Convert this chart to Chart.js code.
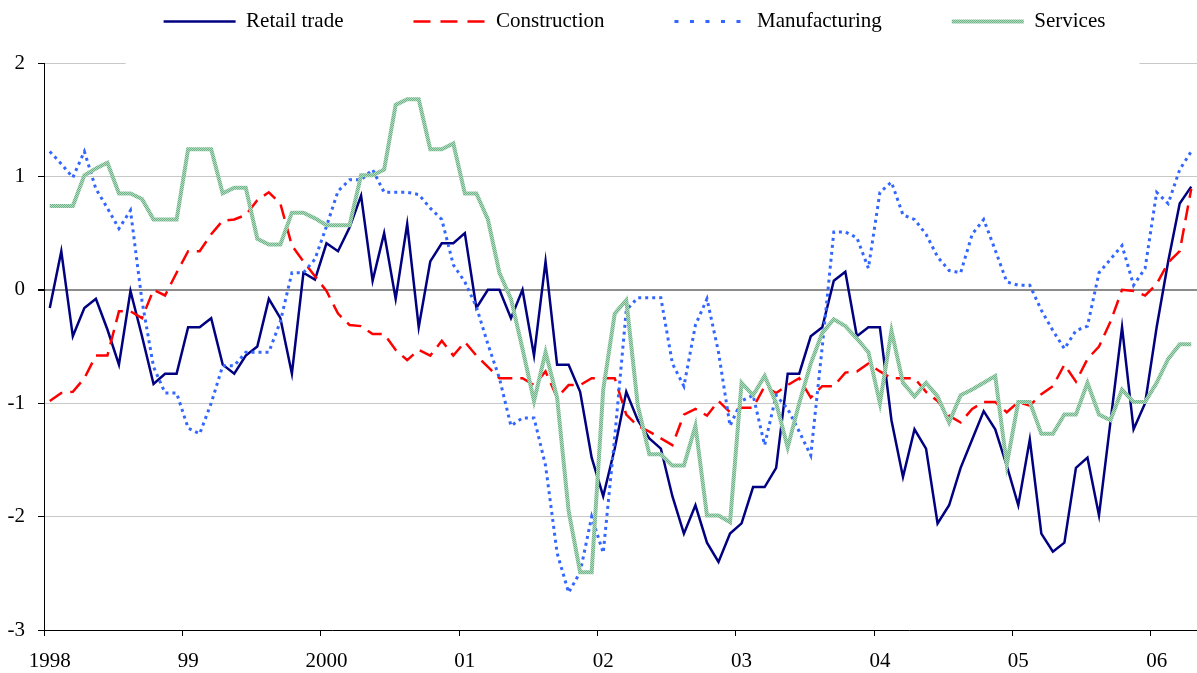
<!DOCTYPE html>
<html>
<head>
<meta charset="utf-8">
<script src="https://cdn.jsdelivr.net/npm/chart.js@4.4.1/dist/chart.umd.min.js"></script>
<style>
  html, body { margin: 0; padding: 0; background: #fff; }
  canvas { display: block; }
</style>
</head>
<body>
<canvas id="chart" width="1197" height="673"></canvas>
<script>
// monthly, Jan 1998 - Apr 2006
const yearLabels = ['1998', '99', '2000', '01', '02', '03', '04', '05', '06']

const retailTrade = [
  -0.16, 0.34, -0.41, -0.16, -0.08, -0.35, -0.66, -0.01, -0.41, -0.83, -0.74, -0.74,
  -0.33, -0.33, -0.25, -0.66, -0.74, -0.58, -0.50, -0.08, -0.25, -0.74, 0.15, 0.09,
  0.41, 0.34, 0.55, 0.83, 0.08, 0.50, -0.08, 0.58, -0.33, 0.25, 0.41, 0.41,
  0.50, -0.16, 0.00, 0.00, -0.25, 0.00, -0.58, 0.25, -0.66, -0.66, -0.90, -1.48,
  -1.82, -1.40, -0.90, -1.15, -1.31, -1.40, -1.82, -2.15, -1.90, -2.23, -2.40, -2.15,
  -2.06, -1.74, -1.74, -1.57, -0.74, -0.74, -0.41, -0.33, 0.08, 0.16, -0.41, -0.33,
  -0.33, -1.15, -1.65, -1.23, -1.40, -2.06, -1.90, -1.57, -1.32, -1.07, -1.23, -1.55,
  -1.90, -1.32, -2.15, -2.31, -2.23, -1.57, -1.48, -1.99, -1.16, -0.33, -1.23, -1.00,
  -0.33, 0.25, 0.76, 0.91
]

const construction = [
  -0.98, -0.91, -0.90, -0.78, -0.58, -0.58, -0.19, -0.19, -0.25, 0.00, -0.05, 0.15,
  0.34, 0.34, 0.49, 0.61, 0.62, 0.66, 0.79, 0.86, 0.76, 0.39, 0.25, 0.12,
  -0.01, -0.21, -0.31, -0.32, -0.39, -0.39, -0.53, -0.62, -0.53, -0.58, -0.45, -0.58,
  -0.46, -0.58, -0.68, -0.78, -0.78, -0.78, -0.84, -0.72, -0.95, -0.84, -0.84, -0.78,
  -0.78, -0.78, -1.10, -1.20, -1.25, -1.31, -1.37, -1.10, -1.05, -1.11, -0.98, -1.08,
  -1.04, -1.04, -0.85, -0.91, -0.84, -0.78, -0.95, -0.85, -0.85, -0.73, -0.72, -0.65,
  -0.72, -0.78, -0.78, -0.78, -0.90, -0.98, -1.11, -1.17, -1.05, -0.99, -0.99, -1.08,
  -0.99, -1.02, -0.92, -0.85, -0.66, -0.81, -0.61, -0.50, -0.28, 0.00, -0.01, -0.05,
  0.05, 0.24, 0.34, 0.89
]

const manufacturing = [
  1.22, 1.11, 0.99, 1.22, 0.89, 0.72, 0.54, 0.70, -0.10, -0.68, -0.91, -0.91,
  -1.22, -1.27, -1.00, -0.67, -0.67, -0.55, -0.55, -0.55, -0.28, 0.15, 0.15, 0.27,
  0.56, 0.87, 0.97, 0.97, 1.06, 0.86, 0.86, 0.86, 0.84, 0.72, 0.62, 0.22,
  0.07, -0.15, -0.48, -0.78, -1.20, -1.13, -1.13, -1.55, -2.32, -2.67, -2.49, -2.00,
  -2.32, -1.30, -0.18, -0.07, -0.07, -0.07, -0.65, -0.85, -0.31, -0.08, -0.55, -1.20,
  -0.98, -0.93, -1.37, -0.93, -1.05, -1.25, -1.46, -0.50, 0.51, 0.51, 0.46, 0.19,
  0.86, 0.95, 0.66, 0.62, 0.49, 0.29, 0.17, 0.15, 0.49, 0.62, 0.35, 0.07,
  0.04, 0.04, -0.18, -0.36, -0.52, -0.36, -0.32, 0.15, 0.27, 0.39, 0.04, 0.19,
  0.86, 0.76, 1.06, 1.22
]

const services = [
  0.74, 0.74, 0.74, 1.01, 1.07, 1.12, 0.85, 0.85, 0.80, 0.62, 0.62, 0.62,
  1.24, 1.24, 1.24, 0.85, 0.90, 0.90, 0.45, 0.40, 0.40, 0.68, 0.68, 0.63,
  0.57, 0.57, 0.57, 1.01, 1.01, 1.06, 1.63, 1.68, 1.68, 1.24, 1.24, 1.29,
  0.85, 0.85, 0.62, 0.15, -0.08, -0.52, -0.98, -0.55, -0.95, -1.95, -2.49, -2.49,
  -0.88, -0.21, -0.09, -1.02, -1.45, -1.45, -1.55, -1.55, -1.20, -1.99, -1.99, -2.05,
  -0.82, -0.93, -0.76, -1.00, -1.39, -1.00, -0.65, -0.38, -0.26, -0.32, -0.43, -0.55,
  -1.00, -0.36, -0.82, -0.94, -0.82, -0.94, -1.17, -0.93, -0.88, -0.82, -0.76, -1.54,
  -0.99, -0.99, -1.27, -1.27, -1.10, -1.10, -0.82, -1.10, -1.15, -0.88, -0.99, -0.99,
  -0.82, -0.61, -0.48, -0.48
]

const months = retailTrade.map((_, i) => {
  const year = 1998 + Math.floor(i / 12)
  return year + '-' + String(i % 12 + 1).padStart(2, '0')
})

// speckled green like the excel texture line
const _makeTexture = function () {
  const c = document.createElement('canvas')
  c.width = 2
  c.height = 2
  const g = c.getContext('2d')
  g.fillStyle = '#b2dcc0'
  g.fillRect(0, 0, 2, 2)
  g.fillStyle = '#6fb287'
  g.fillRect(0, 0, 1, 1)
  g.fillRect(1, 1, 1, 1)
  return g.createPattern(c, 'repeat')
}

// legend sits higher and a bit to the right, like in excel
const legendPlace = {
  id: 'legendPlace',
  beforeInit(chart) {
    const fit = chart.legend.fit
    chart.legend.fit = function () {
      fit.bind(chart.legend)()
      this.height = 63
    }
  },
  afterLayout(chart) {
    const lg = chart.legend
    lg.top = -59
    lg.left += 36
    lg.right += 36
  },
}

// excel legend has a white box that hides part of the top gridline
const legendBackdrop = {
  id: 'legendBackdrop',
  beforeDatasetsDraw(chart) {
    const boxes = chart.legend.legendHitBoxes
    if (!boxes || !boxes.length) return
    const left = boxes[0].left - 38
    const last = boxes[boxes.length - 1]
    const right = last.left + last.width + 34
    const ctx = chart.ctx
    ctx.save()
    ctx.fillStyle = '#fff'
    ctx.fillRect(left, chart.chartArea.top - 3, right - left, 6)
    ctx.restore()
  },
}

const serif = 'Liberation Serif, Times New Roman, serif'

let chart

const drawChart = function () {
  const ctx = document.getElementById('chart')
  chart = new Chart(ctx, {
    type: 'line',
    data: {
      labels: months,
      datasets: [
        {
          label: 'Retail trade',
          data: retailTrade,
          borderColor: '#000080',
          backgroundColor: '#000080',
          borderWidth: 2.5,
          order: 4,
        },
        {
          label: 'Construction',
          data: construction,
          borderColor: '#ff0000',
          backgroundColor: '#ff0000',
          borderWidth: 2.5,
          borderDash: [15, 8],
          legendDash: [17, 10],
          order: 3,
        },
        {
          label: 'Manufacturing',
          data: manufacturing,
          borderColor: '#3366ff',
          backgroundColor: '#3366ff',
          borderWidth: 3,
          borderDash: [3, 4],
          legendDash: [4, 11.5],
          order: 2,
        },
        {
          label: 'Services',
          data: services,
          borderColor: _makeTexture(),
          backgroundColor: '#90c8a0',
          borderWidth: 4,
          order: 1,
        },
      ],
    },
    options: {
      responsive: false,
      animation: false,
      devicePixelRatio: 1,
      layout: { padding: 0 },
      elements: {
        point: { radius: 0, hoverRadius: 0 },
        line: { tension: 0, borderCapStyle: 'butt', borderJoinStyle: 'miter' },
      },
      plugins: {
        tooltip: { enabled: false },
        legend: {
          position: 'top',
          labels: {
            usePointStyle: true,
            pointStyle: 'line',
            pointStyleWidth: 72,
            boxHeight: 21,
            padding: 70,
            color: '#000',
            font: { family: serif, size: 21 },
            generateLabels: (c) => {
              const items = Chart.defaults.plugins.legend.labels.generateLabels(c)
              items.forEach((item) => {
                const ds = c.data.datasets[item.datasetIndex]
                item.lineDash = ds.legendDash || []
                item.lineWidth = ds.borderWidth
                item.strokeStyle = ds.borderColor
              })
              return items.sort((a, b) => a.datasetIndex - b.datasetIndex)
            },
          },
        },
      },
      scales: {
        x: {
          type: 'category',
          offset: true,
          grid: {
            offset: true,
            drawOnChartArea: false,
            drawTicks: true,
            tickLength: 6,
            tickColor: (c) => (c.index % 12 === 0 ? '#000' : 'rgba(0,0,0,0)'),
            color: 'rgba(0,0,0,0)',
          },
          border: { color: '#000', width: 1 },
          ticks: {
            autoSkip: false,
            maxRotation: 0,
            minRotation: 0,
            padding: 13,
            color: '#000',
            font: { family: serif, size: 21 },
            callback: (val, i) => (i % 12 === 0 ? yearLabels[i / 12] : ''),
          },
          afterFit: (scale) => {
            scale.height = 43
            scale.paddingLeft = 0
            scale.paddingRight = 0
          },
        },
        y: {
          min: -3,
          max: 2,
          grid: {
            color: (c) => (c.tick && c.tick.value === 0 ? '#8c8c8c' : '#c8c8c8'),
            lineWidth: (c) => (c.tick && c.tick.value === 0 ? 2 : 1),
            tickLength: 6,
            tickColor: '#000',
          },
          border: { color: '#000', width: 1 },
          ticks: {
            stepSize: 1,
            padding: 13,
            color: '#000',
            font: { family: serif, size: 21 },
          },
          afterFit: (scale) => { scale.width = 44 },
        },
      },
    },
    plugins: [legendPlace, legendBackdrop],
  })
}

document.addEventListener('DOMContentLoaded', function () {
  drawChart()
})
</script>
</body>
</html>
